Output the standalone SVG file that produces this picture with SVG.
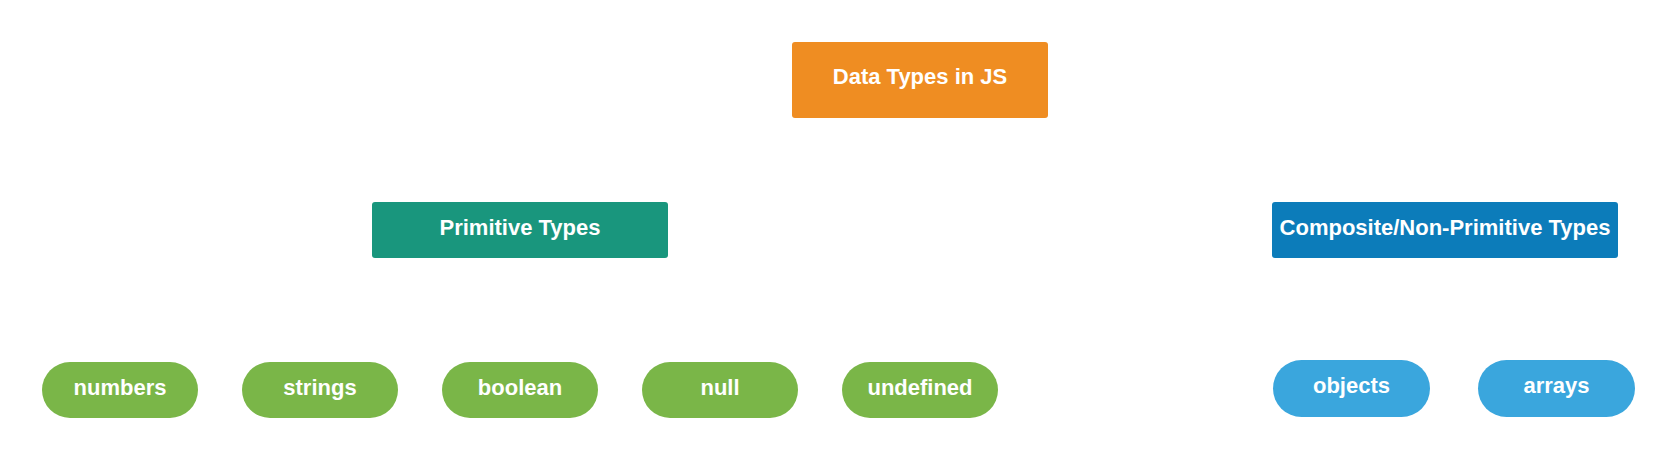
<svg xmlns="http://www.w3.org/2000/svg" width="1677" height="460" viewBox="0 0 1677 460">
<style>
text{font-family:"Liberation Sans",Arial,sans-serif;font-weight:bold;font-size:22px;fill:#ffffff;text-anchor:middle}
.root{fill:#EF8D22}
.prim{fill:#19967D}
.comp{fill:#0C7CBA}
.g{fill:#7AB648}
.b{fill:#3AA6DD}
</style>
<rect width="1677" height="460" fill="#ffffff"/>
<g id="connectors"></g>
<g id="node-root"><rect class="root" x="792" y="42" width="256" height="76" rx="3"/><text x="920" y="84">Data Types in JS</text></g>
<g id="node-primitive"><rect class="prim" x="372" y="202" width="296" height="56" rx="3"/><text x="520" y="235">Primitive Types</text></g>
<g id="node-composite"><rect class="comp" x="1272" y="202" width="346" height="56" rx="3"/><text x="1445" y="235">Composite/Non-Primitive Types</text></g>
<g id="node-numbers"><rect class="g" x="42" y="362" width="156" height="56" rx="28"/><text x="120" y="395">numbers</text></g>
<g id="node-strings"><rect class="g" x="242" y="362" width="156" height="56" rx="28"/><text x="320" y="395">strings</text></g>
<g id="node-boolean"><rect class="g" x="442" y="362" width="156" height="56" rx="28"/><text x="520" y="395">boolean</text></g>
<g id="node-null"><rect class="g" x="642" y="362" width="156" height="56" rx="28"/><text x="720" y="395">null</text></g>
<g id="node-undefined"><rect class="g" x="842" y="362" width="156" height="56" rx="28"/><text x="920" y="395">undefined</text></g>
<g id="node-objects"><rect class="b" x="1273" y="360" width="157" height="57" rx="28.5"/><text x="1351.5" y="393">objects</text></g>
<g id="node-arrays"><rect class="b" x="1478" y="360" width="157" height="57" rx="28.5"/><text x="1556.5" y="393">arrays</text></g>
</svg>
